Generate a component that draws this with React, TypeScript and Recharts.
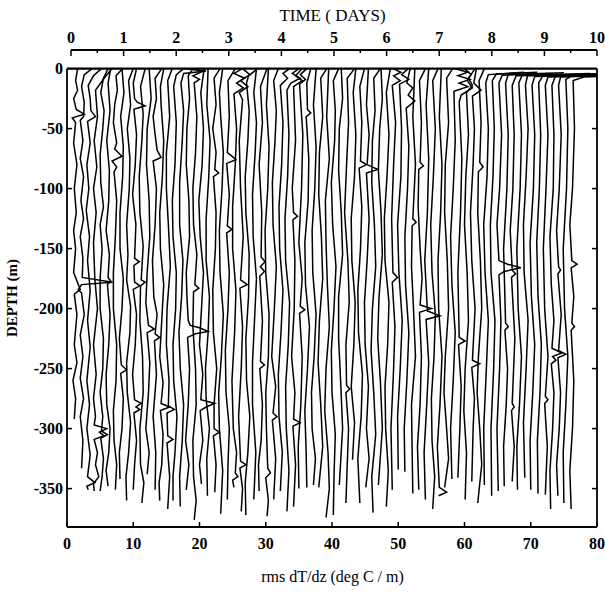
import React from "react";
import { ScatterChart, Scatter, XAxis, YAxis, ReferenceLine } from "recharts";

// one cast every 3 hours, hours since the start of the record
const castHour = [
  0, 3, 6, 9, 12, 15, 18, 21, 24, 27, 30, 33, 36, 39, 42, 45, 48, 51, 54, 57,
  60, 63, 66, 69, 72, 75, 78, 81, 84, 87, 90, 93, 96, 99, 102, 105, 108, 111,
  114, 117, 120, 123, 126, 129, 132, 135, 138, 141, 144, 147, 150, 153, 156,
  159, 162, 165, 168, 171, 174, 177, 180, 183, 186, 189, 192, 195, 198, 201,
  204, 207, 210, 213, 216, 219, 222, 225,
];

// each cast: depth (m), rms dT/dz pairs
const castProfiles: number[][] = [
  [0, 1.6, -10, 1.3, -18, 1.6, -25, 1.0, -34, 1.4, -38, 2.6, -41, 0.8, -45, 1.3, -62, 1.0, -80, 1.5, -100, 1.1, -120, 1.4, -135, 1.0, -150, 1.3, -170, 1.0, -184, 2.0, -188, 1.1, -205, 1.5, -230, 1.1, -245, 1.5, -260, 0.9, -275, 1.3, -292, 1.1],
  [0, 2.8, -5, 1.6, -15, 1.2, -28, 1.6, -40, 1.5, -43, 1.0, -60, 1.4, -75, 1.0, -90, 1.5, -110, 1.1, -125, 1.5, -140, 1.0, -158, 1.4, -174, 1.3, -178, 5.9, -180, 1.2, -184, 0.7, -187, 1.2, -205, 1.6, -222, 1.0, -240, 1.4, -258, 1.0, -275, 1.5, -290, 1.0, -310, 1.4, -333, 1.2],
  [0, 3.2, -6, 2.0, -14, 1.2, -25, 1.5, -35, 1.6, -40, 2.3, -44, 1.1, -62, 1.5, -80, 1.0, -100, 1.3, -118, 0.9, -140, 1.4, -160, 1.1, -185, 1.5, -210, 1.1, -232, 1.5, -260, 1.0, -280, 1.4, -300, 1.0, -322, 1.5, -340, 1.1, -345, 2.2, -348, 1.0, -351, 1.2],
  [0, 3.8, -8, 2.6, -18, 1.3, -40, 1.6, -60, 1.1, -82, 1.5, -100, 1.0, -120, 1.4, -145, 1.0, -175, 1.2, -200, 1.6, -230, 1.0, -255, 1.4, -275, 1.0, -290, 1.3, -297, 1.1, -300, 3.0, -303, 1.9, -306, 2.6, -309, 1.1, -320, 1.6, -330, 1.3, -340, 1.8, -346, 1.0, -352, 1.1],
  [0, 2.2, -8, 1.5, -20, 1.1, -35, 1.6, -50, 1.4, -72, 1.0, -95, 1.1, -115, 1.5, -130, 1.0, -150, 1.3, -175, 1.0, -200, 1.0, -225, 1.5, -250, 1.4, -270, 1.0, -290, 1.4, -302, 1.2, -305, 2.1, -308, 1.1, -325, 1.5, -340, 1.3, -352, 1.0],
  [0, 1.6, -12, 1.2, -35, 1.5, -60, 1.0, -85, 1.4, -110, 1.3, -135, 0.9, -155, 1.4, -174, 1.2, -177, 1.6, -180, 1.1, -205, 1.5, -230, 1.3, -255, 0.9, -280, 1.0, -300, 1.5, -320, 1.3, -335, 0.9, -348, 1.2],
  [0, 2.4, -6, 1.4, -18, 1.6, -30, 1.2, -45, 1.0, -62, 1.5, -67, 1.2, -73, 2.3, -77, 0.8, -82, 1.5, -86, 1.1, -110, 1.5, -140, 1.3, -170, 1.0, -200, 1.0, -230, 1.5, -260, 1.4, -285, 1.0, -310, 1.1, -330, 1.5, -351, 1.3],
  [0, 1.3, -20, 1.6, -40, 1.1, -65, 1.5, -90, 1.4, -120, 1.0, -150, 1.0, -175, 1.5, -200, 1.3, -225, 0.9, -247, 1.2, -251, 2.0, -254, 1.1, -275, 1.5, -300, 1.3, -320, 0.9, -342, 1.0],
  [0, 2.0, -10, 1.3, -30, 1.6, -50, 1.1, -75, 1.5, -100, 1.4, -130, 1.0, -155, 1.2, -176, 1.0, -198, 1.6, -220, 1.5, -245, 1.0, -270, 1.1, -295, 1.6, -320, 1.3, -340, 0.9, -360, 1.0],
  [0, 1.5, -12, 1.0, -25, 1.2, -28, 1.6, -31, 2.8, -34, 1.1, -55, 1.5, -80, 1.3, -105, 0.9, -130, 1.4, -158, 1.2, -161, 1.9, -164, 1.1, -178, 1.2, -181, 2.0, -184, 1.0, -205, 1.5, -230, 1.3, -255, 0.9, -276, 1.2, -279, 2.2, -282, 1.4, -284, 2.0, -287, 1.1, -310, 1.5, -330, 1.2, -351, 1.0],
  [0, 1.8, -15, 1.1, -38, 1.5, -60, 1.3, -90, 0.9, -120, 1.0, -148, 1.5, -176, 1.2, -178, 1.8, -181, 1.1, -210, 1.0, -240, 1.4, -270, 1.5, -300, 1.0, -330, 1.1, -345, 1.6, -362, 1.3],
  [0, 1.4, -25, 1.7, -50, 1.1, -80, 1.0, -110, 1.4, -140, 1.5, -170, 1.1, -195, 0.9, -214, 1.3, -217, 2.2, -220, 1.1, -245, 1.5, -270, 1.3, -300, 0.9, -320, 1.4, -338, 1.1],
  [0, 2.3, -8, 1.3, -25, 1.5, -40, 1.0, -55, 1.3, -68, 1.6, -74, 2.2, -77, 1.0, -100, 1.5, -130, 1.3, -160, 0.9, -190, 1.1, -205, 1.6, -221, 1.3, -224, 2.0, -227, 1.2, -255, 1.5, -290, 1.0, -320, 1.4, -351, 1.3],
  [0, 1.6, -15, 1.1, -30, 1.2, -60, 1.6, -90, 1.4, -120, 1.0, -150, 1.1, -180, 1.6, -210, 1.3, -240, 1.0, -262, 1.5, -279, 1.2, -282, 2.5, -285, 1.1, -305, 1.5, -330, 1.3, -345, 0.9, -360, 1.0],
  [0, 1.9, -10, 1.2, -40, 1.5, -70, 1.0, -100, 1.0, -130, 1.3, -165, 1.6, -200, 1.1, -230, 1.0, -260, 1.4, -281, 1.3, -284, 2.2, -287, 1.1, -306, 1.2, -309, 2.0, -312, 1.1, -340, 1.5, -367, 1.2],
  [0, 2.6, -5, 1.5, -15, 1.1, -45, 1.5, -80, 1.3, -110, 0.9, -140, 1.0, -170, 1.5, -200, 1.4, -230, 1.0, -260, 1.1, -290, 1.6, -320, 1.3, -340, 1.0, -360, 1.0],
  [0, 1.5, -2, 5.0, -4, 1.6, -12, 1.2, -35, 1.6, -60, 1.4, -95, 1.0, -130, 1.0, -160, 1.5, -190, 1.3, -220, 0.9, -250, 1.1, -280, 1.6, -310, 1.4, -340, 1.0, -365, 1.1],
  [0, 2.0, -6, 1.3, -25, 1.5, -50, 1.1, -80, 1.0, -110, 1.4, -140, 1.5, -170, 1.0, -190, 1.1, -210, 1.3, -214, 1.6, -216, 3.0, -219, 4.3, -221, 2.4, -224, 1.2, -250, 1.5, -280, 1.3, -310, 0.9, -330, 1.4, -351, 1.0],
  [0, 1.2, -3, 2.2, -6, 1.0, -9, 2.0, -12, 1.2, -40, 1.6, -70, 1.4, -100, 1.0, -130, 1.1, -155, 1.6, -180, 1.3, -183, 1.9, -186, 1.1, -215, 1.0, -250, 1.4, -280, 1.5, -310, 1.0, -340, 1.1, -360, 1.5, -376, 1.2],
  [0, 1.7, -20, 1.2, -50, 1.6, -80, 1.4, -110, 0.9, -140, 1.1, -170, 1.6, -200, 1.3, -230, 1.0, -255, 1.5, -276, 1.2, -279, 3.3, -282, 2.0, -285, 1.1, -310, 1.5, -330, 1.0, -346, 1.3],
  [0, 1.3, -30, 1.1, -60, 1.6, -90, 1.4, -125, 1.0, -160, 1.0, -190, 1.5, -220, 1.3, -250, 0.9, -275, 1.0, -300, 1.5, -325, 1.1, -356, 1.2],
  [0, 2.1, -8, 1.2, -30, 1.5, -50, 1.0, -70, 1.5, -84, 1.3, -87, 1.9, -90, 1.1, -120, 1.5, -150, 1.4, -185, 1.0, -220, 1.1, -250, 1.6, -280, 1.2, -300, 1.2, -303, 2.0, -306, 1.1, -330, 1.5, -353, 1.3],
  [0, 1.5, -20, 1.0, -40, 1.2, -70, 1.6, -100, 1.4, -135, 1.0, -170, 1.1, -205, 1.6, -240, 1.3, -270, 0.9, -300, 1.0, -335, 1.5, -371, 1.2],
  [0, 2.4, -10, 1.3, -40, 1.5, -70, 1.2, -73, 1.9, -76, 2.5, -79, 1.1, -105, 1.5, -131, 1.2, -134, 1.9, -137, 1.1, -170, 1.5, -200, 1.3, -235, 0.9, -270, 1.0, -300, 1.5, -330, 1.3, -359, 1.2],
  [0, 2.5, -4, 1.2, -8, 2.8, -12, 1.6, -16, 2.6, -21, 1.2, -50, 1.6, -80, 1.4, -115, 1.0, -150, 1.0, -185, 1.5, -220, 1.3, -260, 0.9, -300, 1.1, -320, 1.6, -337, 1.4, -340, 1.8, -343, 1.0, -349, 1.2],
  [0, 1.5, -5, 2.6, -10, 1.2, -15, 2.3, -20, 1.0, -26, 1.5, -60, 1.0, -100, 1.2, -140, 1.6, -176, 1.2, -180, 2.2, -183, 1.1, -215, 1.5, -250, 1.3, -290, 0.9, -327, 1.2, -330, 2.0, -333, 1.1, -350, 1.5, -369, 1.3],
  [0, 2.8, -6, 1.4, -12, 1.1, -35, 1.5, -60, 1.3, -90, 0.9, -120, 1.0, -155, 1.5, -190, 1.4, -225, 1.0, -260, 1.1, -290, 1.6, -320, 1.3, -345, 0.9, -372, 1.0],
  [0, 1.6, -20, 1.2, -45, 1.6, -70, 1.4, -105, 1.0, -140, 1.1, -175, 1.6, -210, 1.3, -245, 1.0, -280, 1.0, -320, 1.5, -359, 1.2],
  [0, 2.2, -15, 1.2, -45, 1.5, -80, 1.0, -120, 1.4, -157, 1.3, -161, 1.9, -165, 1.2, -169, 1.8, -173, 1.1, -210, 1.5, -244, 1.2, -247, 1.8, -250, 1.1, -280, 1.5, -310, 1.3, -330, 0.9, -352, 1.0],
  [0, 1.4, -30, 1.1, -65, 1.5, -100, 1.3, -135, 0.9, -170, 1.0, -205, 1.5, -240, 1.4, -270, 1.0, -300, 1.1, -333, 1.3, -337, 1.7, -341, 1.0, -360, 1.4, -373, 1.2],
  [0, 1.9, -10, 1.2, -35, 1.6, -60, 1.4, -95, 1.0, -130, 1.1, -165, 1.6, -200, 1.3, -240, 0.9, -265, 1.5, -287, 1.1, -290, 1.7, -293, 1.0, -325, 1.5, -359, 1.2],
  [0, 2.6, -4, 1.6, -8, 2.3, -14, 1.2, -45, 1.6, -80, 1.4, -115, 1.0, -150, 1.1, -185, 1.6, -220, 1.3, -255, 0.9, -290, 1.0, -320, 1.5, -352, 1.2],
  [0, 3.0, -4, 2.0, -8, 3.2, -12, 1.8, -18, 1.2, -55, 1.5, -90, 1.3, -125, 0.9, -160, 1.0, -195, 1.6, -230, 1.4, -265, 1.0, -300, 1.1, -335, 1.5, -369, 1.2],
  [0, 2.5, -6, 1.5, -10, 2.5, -15, 1.2, -60, 1.5, -100, 1.0, -120, 1.2, -123, 1.8, -126, 1.1, -160, 1.4, -200, 1.3, -240, 0.9, -270, 1.4, -292, 1.2, -295, 2.2, -298, 1.1, -330, 1.5, -365, 1.2],
  [0, 2.2, -5, 1.2, -9, 2.0, -13, 1.1, -55, 1.6, -100, 1.4, -145, 1.0, -175, 1.5, -198, 1.2, -201, 1.9, -204, 1.1, -240, 1.5, -280, 1.3, -315, 0.9, -350, 1.0],
  [0, 1.8, -12, 1.2, -34, 1.3, -37, 1.8, -40, 1.1, -75, 1.5, -110, 1.4, -145, 0.9, -180, 1.0, -215, 1.6, -250, 1.3, -285, 0.9, -320, 1.1, -349, 1.2],
  [0, 1.6, -30, 1.2, -65, 1.6, -100, 1.4, -135, 1.0, -170, 1.1, -205, 1.6, -240, 1.3, -270, 0.9, -300, 1.0, -325, 1.5, -347, 1.2],
  [0, 2.2, -8, 1.3, -40, 1.6, -70, 1.1, -105, 1.0, -140, 1.4, -175, 1.6, -210, 1.1, -245, 0.9, -280, 1.3, -315, 1.6, -349, 1.0],
  [0, 1.5, -40, 1.2, -75, 1.6, -110, 1.0, -145, 1.1, -180, 1.3, -215, 1.6, -250, 1.1, -285, 0.9, -320, 1.4, -350, 1.6, -374, 1.1],
  [0, 2.0, -10, 1.2, -35, 1.5, -60, 1.4, -95, 0.9, -130, 1.1, -165, 1.6, -200, 1.3, -235, 0.9, -270, 1.0, -305, 1.5, -340, 1.3, -372, 1.2],
  [0, 1.4, -25, 1.6, -50, 1.1, -85, 1.0, -120, 1.4, -155, 1.6, -190, 1.0, -225, 1.0, -260, 1.3, -300, 1.6, -347, 1.1],
  [0, 2.4, -8, 1.3, -45, 1.5, -80, 1.2, -120, 0.9, -160, 1.4, -195, 1.6, -230, 1.1, -264, 1.2, -267, 1.7, -270, 1.1, -300, 1.5, -330, 1.3, -362, 1.1],
  [0, 1.6, -20, 1.2, -55, 1.6, -90, 1.4, -125, 0.9, -160, 1.0, -195, 1.5, -230, 1.3, -265, 0.9, -295, 1.4, -326, 1.1],
  [0, 1.9, -15, 1.2, -45, 1.5, -77, 1.3, -80, 2.2, -83, 1.1, -115, 1.5, -150, 1.3, -185, 0.9, -220, 1.0, -255, 1.6, -290, 1.4, -325, 0.9, -362, 1.2],
  [0, 1.5, -30, 1.2, -55, 1.6, -80, 1.3, -84, 2.9, -87, 1.2, -125, 1.6, -160, 1.3, -195, 0.9, -230, 1.0, -265, 1.5, -300, 1.2, -325, 1.6, -349, 1.1],
  [0, 2.3, -8, 1.3, -35, 1.5, -60, 1.1, -95, 1.0, -130, 1.4, -165, 1.6, -200, 1.1, -235, 0.9, -270, 1.3, -305, 1.6, -340, 1.0, -370, 1.2],
  [0, 1.4, -25, 1.6, -50, 1.2, -85, 1.0, -120, 1.4, -155, 1.6, -190, 1.1, -225, 0.9, -260, 1.3, -300, 1.6, -347, 1.0],
  [0, 1.8, -20, 1.2, -55, 1.6, -90, 1.3, -125, 0.9, -160, 1.0, -195, 1.6, -230, 1.4, -265, 1.0, -300, 1.1, -335, 1.5, -365, 1.2],
  [0, 1.2, -3, 2.4, -6, 1.3, -10, 2.3, -14, 1.1, -45, 1.6, -80, 1.3, -125, 1.0, -170, 1.2, -174, 1.9, -178, 1.1, -215, 1.5, -250, 1.3, -300, 0.9, -351, 1.1],
  [0, 2.5, -5, 1.5, -9, 2.6, -13, 1.2, -50, 1.5, -90, 1.4, -130, 0.9, -170, 1.1, -210, 1.6, -250, 1.3, -290, 0.9, -334, 1.0],
  [0, 1.8, -12, 1.3, -16, 2.2, -22, 1.5, -27, 2.5, -33, 1.2, -65, 1.6, -100, 1.4, -140, 1.0, -180, 1.1, -220, 1.6, -260, 1.3, -300, 0.9, -336, 1.0],
  [0, 1.5, -40, 1.2, -80, 1.6, -125, 1.2, -128, 1.7, -131, 1.1, -165, 1.0, -200, 1.3, -240, 1.6, -280, 1.0, -320, 1.1, -354, 1.2],
  [0, 2.1, -10, 1.2, -45, 1.5, -78, 1.3, -81, 1.8, -84, 1.1, -115, 1.0, -150, 1.3, -175, 1.6, -197, 1.3, -200, 3.0, -203, 1.2, -240, 1.5, -280, 1.3, -315, 0.9, -351, 1.1],
  [0, 1.6, -30, 1.2, -75, 1.6, -120, 1.4, -160, 1.0, -202, 1.4, -206, 3.3, -209, 1.2, -245, 1.6, -280, 1.3, -320, 0.9, -359, 1.1],
  [0, 2.0, -10, 1.2, -50, 1.6, -90, 1.3, -130, 0.9, -170, 1.1, -205, 1.6, -240, 1.4, -275, 1.0, -310, 1.1, -340, 1.5, -367, 1.2],
  [0, 1.5, -40, 1.2, -80, 1.6, -120, 1.4, -160, 1.0, -200, 1.1, -240, 1.6, -280, 1.3, -315, 0.9, -349, 1.2, -353, 2.3, -356, 1.1],
  [0, 2.2, -8, 1.3, -45, 1.6, -80, 1.1, -120, 1.0, -160, 1.4, -200, 1.6, -240, 1.1, -270, 0.9, -300, 1.3, -325, 1.6, -349, 1.0],
  [0, 1.5, -3, 3.5, -6, 2.0, -9, 3.8, -12, 2.2, -15, 3.5, -19, 1.4, -60, 1.6, -100, 1.3, -140, 0.9, -180, 1.1, -220, 1.6, -260, 1.3, -300, 0.9, -342, 1.1],
  [0, 2.0, -5, 3.0, -10, 2.4, -16, 3.2, -22, 1.5, -28, 1.2, -75, 1.6, -120, 1.4, -170, 1.0, -224, 1.2, -227, 2.1, -230, 1.1, -265, 1.5, -300, 1.3, -341, 1.0],
  [0, 2.6, -8, 1.6, -14, 2.2, -20, 1.3, -55, 1.6, -90, 1.2, -130, 1.0, -170, 1.4, -210, 1.6, -250, 1.1, -285, 0.9, -320, 1.3, -359, 1.1],
  [0, 1.8, -12, 1.4, -18, 2.5, -23, 1.2, -50, 1.5, -80, 1.3, -120, 0.9, -160, 1.1, -200, 1.6, -243, 1.2, -246, 2.3, -249, 1.1, -275, 1.5, -300, 1.3, -344, 1.1],
  [0, 2.0, -10, 1.2, -45, 1.5, -78, 1.3, -82, 1.8, -86, 1.1, -120, 1.0, -160, 1.4, -200, 1.6, -240, 1.1, -270, 0.9, -300, 1.3, -330, 1.6, -362, 1.0],
  [-3, 7.0, -5, 1.6, -12, 1.2, -50, 1.6, -90, 1.4, -130, 0.9, -170, 1.1, -210, 1.6, -250, 1.3, -300, 0.9, -347, 1.0],
  [-3, 8.0, -4.5, 1.8, -10, 1.2, -50, 1.5, -90, 1.3, -130, 0.9, -170, 1.0, -210, 1.6, -250, 1.4, -300, 1.0, -356, 1.1],
  [-4, 9.0, -5.5, 1.7, -12, 1.2, -55, 1.6, -100, 1.3, -130, 0.9, -160, 1.2, -163, 2.5, -166, 4.5, -169, 2.0, -172, 1.2, -210, 1.5, -250, 1.3, -300, 0.9, -352, 1.1],
  [-3.5, 10.0, -5, 1.6, -12, 1.2, -55, 1.6, -100, 1.4, -150, 0.9, -212, 1.2, -215, 1.6, -218, 1.1, -250, 1.5, -280, 1.3, -315, 0.9, -348, 1.0],
  [-5, 11.0, -6, 1.8, -14, 1.2, -55, 1.5, -100, 1.3, -135, 0.9, -168, 1.2, -171, 1.7, -174, 1.1, -225, 1.6, -279, 1.2, -282, 1.5, -285, 1.1, -315, 1.5, -344, 1.2],
  [-4, 12.0, -5.5, 1.7, -12, 1.2, -55, 1.6, -100, 1.4, -150, 0.9, -200, 1.1, -240, 1.6, -280, 1.3, -315, 0.9, -351, 1.0],
  [-4.5, 12.0, -6, 1.5, -14, 1.2, -50, 1.6, -90, 1.3, -130, 0.9, -170, 1.0, -210, 1.6, -250, 1.3, -295, 0.9, -341, 1.1],
  [-5, 12.0, -6.5, 1.6, -14, 1.2, -55, 1.6, -100, 1.4, -145, 0.9, -190, 1.1, -230, 1.6, -270, 1.3, -310, 0.9, -351, 1.0],
  [-4, 12.0, -6, 1.8, -12, 1.2, -55, 1.5, -100, 1.3, -145, 0.9, -190, 1.1, -230, 1.6, -270, 1.4, -310, 1.0, -354, 1.1],
  [-5, 12.0, -7, 1.6, -14, 1.2, -55, 1.6, -100, 1.3, -150, 0.9, -200, 1.1, -240, 1.6, -273, 1.2, -276, 1.6, -279, 1.1, -315, 1.5, -355, 1.2],
  [-4.5, 12.0, -6.5, 1.7, -14, 1.2, -55, 1.5, -100, 1.4, -140, 0.9, -180, 1.1, -210, 1.5, -233, 1.2, -237, 2.7, -240, 1.3, -243, 1.8, -246, 1.1, -270, 1.5, -300, 1.3, -335, 0.9, -367, 1.0],
  [-5, 12.0, -7, 1.5, -14, 1.2, -55, 1.6, -100, 1.3, -135, 0.9, -165, 1.2, -168, 1.5, -171, 1.1, -205, 1.6, -235, 1.2, -238, 2.3, -241, 1.1, -270, 1.5, -300, 1.3, -330, 0.9, -356, 1.1],
  [-4, 12.0, -6, 2.2, -9, 1.3, -50, 1.6, -100, 1.4, -150, 0.9, -200, 1.1, -240, 1.6, -280, 1.3, -320, 0.9, -362, 1.0],
  [-5, 12.0, -7, 3.0, -10, 1.4, -50, 1.6, -100, 1.3, -130, 0.9, -160, 1.2, -163, 2.0, -166, 1.1, -190, 1.5, -212, 1.2, -215, 1.6, -218, 1.1, -260, 1.5, -300, 1.3, -335, 0.9, -367, 1.1],
];

const depthTicks = [0, -50, -100, -150, -200, -250, -300, -350];
const rmsTicks = [0, 10, 20, 30, 40, 50, 60, 70, 80];
const dayTicks = [0, 0.5, 1, 1.5, 2, 2.5, 3, 3.5, 4, 4.5, 5, 5.5, 6, 6.5, 7, 7.5, 8, 8.5, 9, 9.5, 10];

const DEPTH_MIN = -382;
const DEPTH_TOP = 15.5; // headroom above the surface so the time axis sits clear of the box
const UNITS_PER_DAY = 8; // each cast is shifted right by its time

const casts = castProfiles.map((flat, i) => {
  const shift = (castHour[i] / 24) * UNITS_PER_DAY;
  const pts: { x: number; y: number }[] = [];
  for (let k = 0; k < flat.length; k += 2) pts.push({ x: shift + flat[k + 1], y: flat[k] });
  return pts;
});

// anchors the time axis and the right-hand depth axis so they get a scale
const dayAnchors = dayTicks.map((d) => ({ x: d, y: 0 }));

const tickFont = { fontSize: 16, fontWeight: 700, fill: "#000" };

const LeftTick = (props: any) => {
  const { x, y, payload } = props;
  return (
    <g>
      <line x1={x} x2={x + 5} y1={y} y2={y} stroke="#000" strokeWidth={1.5} />
      <text x={x - 4} y={y} dy="0.35em" textAnchor="end" {...tickFont}>
        {payload.value}
      </text>
    </g>
  );
};

const RightTick = (props: any) => {
  const { x, y, payload } = props;
  if (payload.value === 0) return <g />;
  return <line x1={x} x2={x - 5} y1={y} y2={y} stroke="#000" strokeWidth={1.5} />;
};

const BottomTick = (props: any) => {
  const { x, y, payload } = props;
  return (
    <g>
      <line x1={x} x2={x} y1={y} y2={y - 5} stroke="#000" strokeWidth={1.5} />
      <text x={x} y={y + 22} textAnchor="middle" {...tickFont}>
        {payload.value}
      </text>
    </g>
  );
};

const TopTick = (props: any) => {
  const { x, y, payload } = props;
  const major = Number.isInteger(payload.value);
  return (
    <g>
      <line x1={x} x2={x} y1={y} y2={y + (major ? 6 : 3)} stroke="#000" strokeWidth={1.5} />
      {major && (
        <text x={x} y={y - 7} textAnchor="middle" {...tickFont}>
          {payload.value}
        </text>
      )}
    </g>
  );
};

const noDot = () => <g />;

export default function App() {
  return (
    <div
      style={{
        position: "absolute",
        left: 0,
        top: 0,
        width: 605,
        height: 593,
        background: "#fff",
        fontFamily: '"Liberation Serif", "Times New Roman", serif',
        color: "#000",
      }}
    >
      <ScatterChart width={605} height={593} margin={{ top: 0, right: 7, bottom: 36, left: 7 }}>
        <XAxis
          xAxisId={0}
          dataKey="x"
          type="number"
          domain={[0, 80]}
          allowDataOverflow
          ticks={rmsTicks}
          interval={0}
          height={30}
          tickSize={0}
          tickMargin={0}
          tickLine={false}
          tick={BottomTick}
          axisLine={{ stroke: "#000", strokeWidth: 1.8 }}
        />
        <XAxis
          xAxisId="top"
          orientation="top"
          dataKey="x"
          type="number"
          domain={[-0.076, 10]}
          allowDataOverflow
          ticks={dayTicks}
          interval={0}
          height={50}
          tickSize={0}
          tickMargin={0}
          tickLine={false}
          tick={TopTick}
          axisLine={false}
        />
        <YAxis
          yAxisId={0}
          dataKey="y"
          type="number"
          domain={[DEPTH_MIN, DEPTH_TOP]}
          allowDataOverflow
          ticks={depthTicks}
          interval={0}
          width={60}
          tickSize={0}
          tickMargin={0}
          tickLine={false}
          tick={LeftTick}
          axisLine={false}
        />
        <YAxis
          yAxisId="r"
          orientation="right"
          dataKey="y"
          type="number"
          domain={[DEPTH_MIN, DEPTH_TOP]}
          allowDataOverflow
          ticks={depthTicks}
          interval={0}
          width={1}
          tickSize={0}
          tickMargin={0}
          tickLine={false}
          tick={RightTick}
          axisLine={false}
        />
        {/* box round the profiles, from the surface down */}
        <ReferenceLine segment={[{ x: 0, y: DEPTH_MIN }, { x: 0, y: 0 }]} stroke="#000" strokeWidth={1.8} />
        <ReferenceLine segment={[{ x: 80, y: DEPTH_MIN }, { x: 80, y: 0 }]} stroke="#000" strokeWidth={1.8} />
        <ReferenceLine segment={[{ x: 0, y: 0 }, { x: 80, y: 0 }]} stroke="#000" strokeWidth={2.2} />
        {/* time axis line, days 0 to 10 */}
        <ReferenceLine
          xAxisId="top"
          yAxisId="r"
          segment={[{ x: 0, y: DEPTH_TOP }, { x: 10, y: DEPTH_TOP }]}
          stroke="#000"
          strokeWidth={1.8}
        />
        <Scatter
          xAxisId="top"
          yAxisId="r"
          data={dayAnchors}
          shape={noDot}
          legendType="none"
          isAnimationActive={false}
        />
        {casts.map((pts, i) => (
          <Scatter
            key={i}
            data={pts}
            line={{ stroke: "#000", strokeWidth: 1.5 }}
            lineType="joint"
            shape={noDot}
            legendType="none"
            isAnimationActive={false}
          />
        ))}
      </ScatterChart>
      <div
        style={{
          position: "absolute",
          left: 0,
          width: 665,
          top: 6,
          textAlign: "center",
          fontSize: 17,
          lineHeight: "20px",
        }}
      >
        TIME ( DAYS)
      </div>
      <div
        style={{
          position: "absolute",
          left: 0,
          width: 665,
          top: 567,
          textAlign: "center",
          fontSize: 16,
          lineHeight: "20px",
        }}
      >
        rms dT/dz (deg C / m)
      </div>
      <div
        style={{
          position: "absolute",
          left: 12 - 60,
          top: 298 - 10,
          width: 120,
          height: 20,
          lineHeight: "20px",
          textAlign: "center",
          fontSize: 15,
          fontWeight: 700,
          transform: "rotate(-90deg)",
          transformOrigin: "60px 10px",
        }}
      >
        DEPTH (m)
      </div>
    </div>
  );
}
